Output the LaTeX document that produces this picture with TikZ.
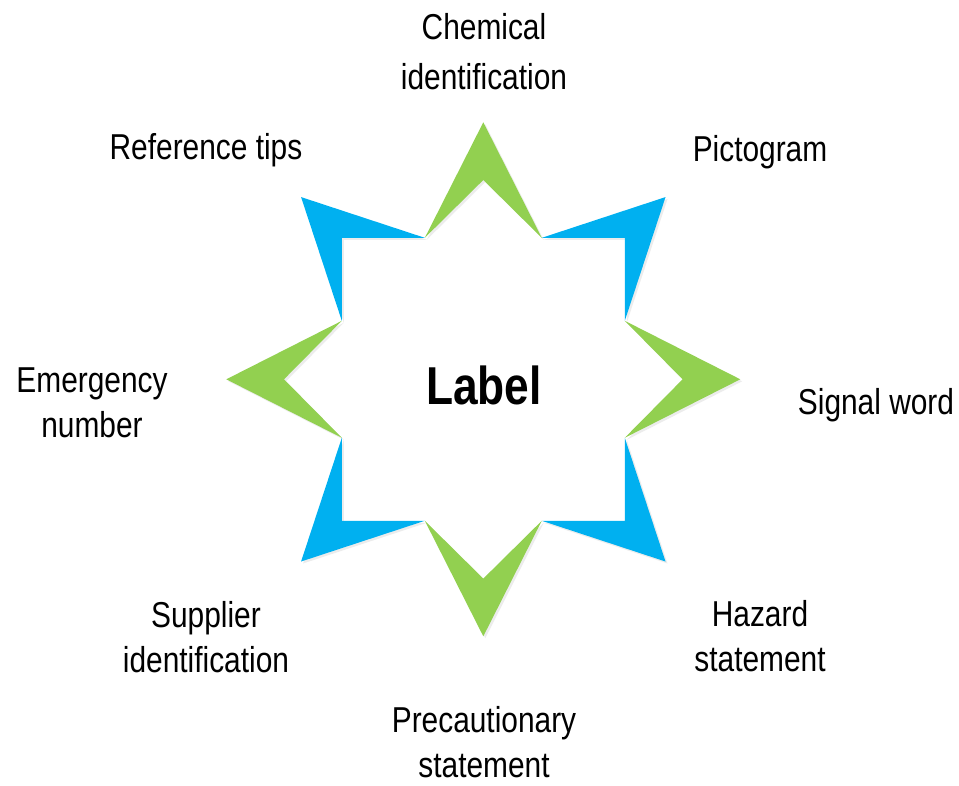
\documentclass[tikz,border=0pt]{standalone}
\usepackage{fontspec}
\setmainfont{Liberation Sans}[FakeStretch=0.83]
\usetikzlibrary{shadows}
\definecolor{leafgreen}{HTML}{92D050}
\definecolor{skyblue}{HTML}{00B0F0}

\begin{document}
\begin{tikzpicture}[x=0.75pt, y=0.75pt,
    spike/.style={drop shadow={opacity=0.15, shadow xshift=1.5pt, shadow yshift=-1.5pt}},
    caption/.style={align=center, inner sep=0pt, font=\fontsize{27}{34}\selectfont}]
  \useasboundingbox (-483.3,-405.7) rectangle (475.7,379.3);
  % green spikes on the sides, blue ones on the corners
  \foreach \a in {0,90,180,270} {
    \pgfmathsetmacro\b{\a+45}
    \fill[leafgreen, spike] (\a+22.46:153.1) -- (\a:257) -- (\a-22.46:153.1) -- (\a:199.3) -- cycle;
    \fill[skyblue, spike] (\b+22.54:153.1) -- (\b:257.7) -- (\b-22.54:153.1) -- (\b:200.1) -- cycle;
  }
  \node (label) at (0.7,-5.7) {\fontsize{40}{48}\selectfont\bfseries Label};
  \node[caption] (chem) at (0.7,327.8) {Chemical\\[4pt]identification};
  \node[caption] (picto) at (276.7,227.3) {Pictogram};
  \node[caption] (signal) at (392.7,-25.7) {Signal word};
  \node[caption] (hazard) at (276.7,-256.7) {Hazard\\statement};
  \node[caption] (precaution) at (0.7,-362.5) {Precautionary\\statement};
  \node[caption] (supplier) at (-277.3,-257.7) {Supplier\\identification};
  \node[caption] (emergency) at (-391.3,-23.7) {Emergency\\number};
  \node[caption] (reftips) at (-277.3,229.3) {Reference tips};
\end{tikzpicture}
\end{document}
